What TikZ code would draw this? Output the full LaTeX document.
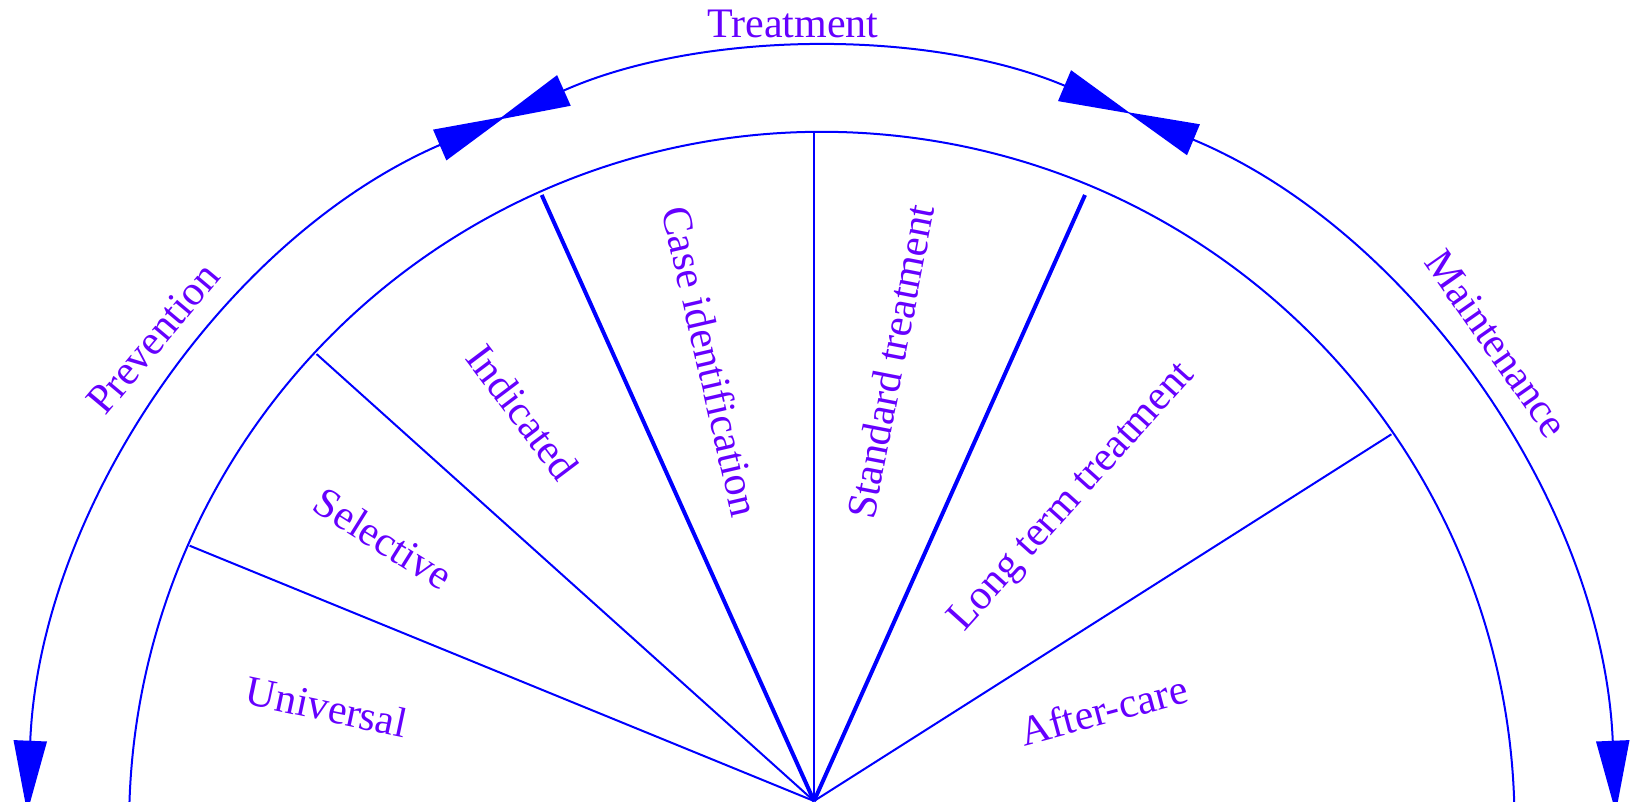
\documentclass[tikz,border=0pt]{standalone}
\usepackage{fontspec}
\setmainfont{Liberation Serif}
\usetikzlibrary{arrows.meta}
\definecolor{lineblue}{RGB}{0,0,255}
\definecolor{txtpurple}{RGB}{102,0,255}
\begin{document}
\begin{tikzpicture}[x=1pt,y=1pt,
  thinline/.style={draw=lineblue,line width=2pt},
  thickline/.style={draw=lineblue,line width=4pt},
  arcline/.style={draw=lineblue,line width=2pt,
    {Triangle[length=72pt,width=33pt]}-{Triangle[length=72pt,width=33pt]}},
  lbl/.style={text=txtpurple,font=\fontsize{42}{50}\selectfont,inner sep=0pt}]
\clip (0,0) rectangle (1633,801);
\coordinate (O) at (814,0);
\coordinate (Ci) at (821.8,-23.5);
\coordinate (Co) at (821.5,-45);
% inner arc
\draw[thinline] ([shift={(-5:692.7)}]Ci) arc[start angle=-5,end angle=185,radius=692.7];
% spokes
\coordinate (s1) at (189.6,255.3);
\coordinate (s2) at (316.6,446.9);
\coordinate (s3) at (541.7,606);
\coordinate (s4) at (814,669.2);
\coordinate (s5) at (1085,606);
\coordinate (s6) at (1391.4,366.7);
\draw[thinline] (O) -- (s1);
\draw[thinline] (O) -- (s2);
\draw[thickline] (O) -- (s3);
\draw[thinline] (O) -- (s4);
\draw[thickline] (O) -- (s5);
\draw[thinline] (O) -- (s6);
% outer arcs
\draw[arcline] ([shift={(177.6:795)}]Co) arc[start angle=177.6,end angle=113.4,radius=795];
\draw[arcline] ([shift={(114.0:795)}]Co) arc[start angle=114.0,end angle=67.1,radius=795];
\draw[arcline] ([shift={(67.4:795)}]Co) arc[start angle=67.4,end angle=2.4,radius=795];
% labels
\node[lbl,anchor=base] (treat) at (793,763.7) {Treatment};
\node[lbl,rotate=50] (prev) at (153,462.5) {Prevention};
\node[lbl,rotate=-55] (maint) at (1496.6,457.3) {Maintenance};
\node[lbl,rotate=-12] (univ) at (326.7,94.3) {Universal};
\node[lbl,rotate=-32] (sel) at (383.3,262.5) {Selective};
\node[lbl,rotate=-53] (ind) at (522.8,388.6) {Indicated};
\node[lbl,rotate=-77] (case) at (711.3,439.6) {Case identification};
\node[lbl,rotate=79] (std) at (890.5,439.6) {Standard treatment};
\node[lbl,rotate=48] (long) at (1072.7,303.2) {Long term treatment};
\node[lbl,rotate=15] (after) at (1103.3,91) {After-care};
\end{tikzpicture}
\end{document}
